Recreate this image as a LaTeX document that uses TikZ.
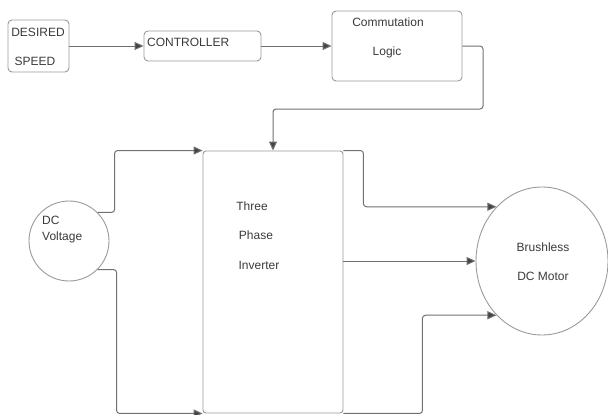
\documentclass[tikz,border=0pt]{standalone}
\usepackage{fontspec}
\setmainfont{Liberation Sans}
\usetikzlibrary{arrows.meta,shapes.geometric}
\definecolor{boxgray}{HTML}{9A9A9A}
\definecolor{linegray}{HTML}{707070}
\definecolor{tipgray}{HTML}{444444}
\definecolor{txtgray}{HTML}{3A3A3A}
\tikzset{
  blk/.style={draw=boxgray, line width=0.9pt, rounded corners=4pt, inner sep=0pt},
  ring/.style={draw=boxgray, line width=0.9pt, inner sep=0pt},
  lbl/.style={text=txtgray, inner sep=0pt, font=\fontsize{12}{14}\selectfont},
  conn/.style={draw=linegray, line width=1pt, rounded corners=3pt,
    -{Triangle[length=9pt,width=8pt,fill=tipgray]}},
}
\begin{document}
\begin{tikzpicture}[x=1pt,y=-1pt]
\useasboundingbox (0,0) rectangle (608,415);
% boxes
\node[blk, minimum width=61pt, minimum height=52pt] (ds) at (38.5,46) {};
\node[blk, minimum width=117pt, minimum height=30pt] (ctl) at (202.5,46) {};
\node[blk, minimum width=130pt, minimum height=70pt] (com) at (397,46) {};
\node[blk, rounded corners=3pt, minimum width=140pt, minimum height=262pt] (inv) at (273,282) {};
\node[ring, circle, minimum size=80pt] (dcv) at (69,241) {};
\node[ring, ellipse, minimum width=132pt, minimum height=148pt] (mot) at (542,261) {};
% texts
\node[lbl] (ds1) at (38,32) {DESIRED};
\node[lbl] (ds2) at (35,61) {SPEED};
\node[lbl, anchor=west] (ctlt) at (147,42) {CONTROLLER};
\node[lbl] (com1) at (388,22) {Commutation};
\node[lbl] (com2) at (387,52) {Logic};
\node[lbl, anchor=west] (dc1) at (42,220) {DC};
\node[lbl, anchor=west] (dc2) at (42,237) {Voltage};
\node[lbl] (inv1) at (252,206) {Three};
\node[lbl] (inv2) at (256,235) {Phase};
\node[lbl] (inv3) at (259,265) {Inverter};
\node[lbl] (mot1) at (543,247) {Brushless};
\node[lbl] (mot2) at (543,276) {DC Motor};
% connectors
\draw[conn] (ds.east) -- (ctl.west);
\draw[conn] (ctl.east) -- (com.west);
\coordinate (cj) at (483,109);
\draw[conn] (com.east) -| (cj) -| (inv.north);
\draw[conn] (dcv.45) -- ++(17,0) |- (inv.north west);
\draw[conn] (dcv.-45) -- ++(19,0) |- (inv.south west);
\draw[conn] (inv.north east) -- ++(20,0) |- (mot.130);
\draw[conn] (inv.east |- mot.west) -- (mot.west);
\draw[conn] (inv.south east) -- ++(79,0) |- (mot.230);
\end{tikzpicture}
\end{document}
